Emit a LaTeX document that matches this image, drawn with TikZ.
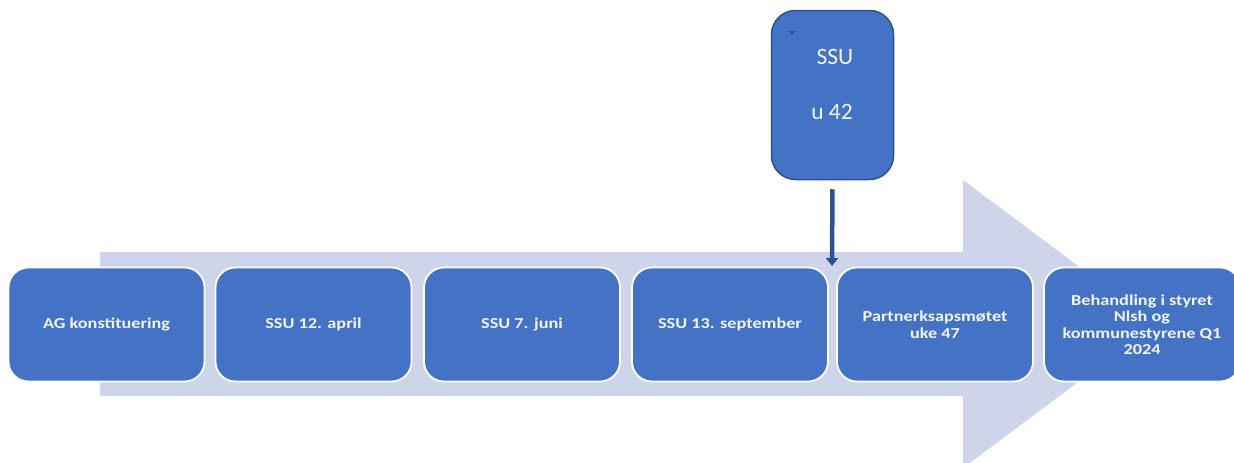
\documentclass[tikz,border=0pt]{standalone}
\usepackage{fontspec}
\setmainfont{Carlito}
\newfontfamily\rowfont[FakeStretch=1.2]{Carlito Bold}
\usetikzlibrary{arrows.meta}
\definecolor{boxblue}{HTML}{4472C4}
\definecolor{darkblue}{HTML}{2F528F}
\definecolor{arrowbg}{HTML}{CED5EA}
\definecolor{txt}{HTML}{F2F5FB}
\begin{document}
\begin{tikzpicture}[x=1pt,y=-1pt,
  rowbox/.style={draw=white,line width=1.8pt,fill=boxblue,rounded corners=20pt,
    minimum width=196pt,minimum height=114pt,inner sep=0pt,align=center,
    text=txt,font=\rowfont\fontsize{15.2}{16.5}\selectfont,anchor=center},
  topbox/.style={draw=darkblue,line width=1.5pt,fill=boxblue,rounded corners=24pt,
    minimum width=122pt,minimum height=169pt,inner sep=0pt},
  toptext/.style={text=txt,font=\fontsize{23.5}{26}\selectfont,anchor=center},
  link/.style={draw=darkblue,line width=4.5pt,-{Triangle[width=12pt,length=8pt]}}
]
\useasboundingbox (0,0) rectangle (1234,463);
\clip (0,0) rectangle (1234,463);
% big background arrow
\fill[arrowbg] (100,252) -- (963,252) -- (963,180) -- (1156,324) -- (963,468) -- (963,396) -- (100,396) -- cycle;
% row boxes
\node[rowbox] (b1) at (106.5,324.5) {AG konstituering};
\node[rowbox] (b2) at (313.5,324.5) {SSU 12. april};
\node[rowbox] (b3) at (522,324.5) {SSU 7. juni};
\node[rowbox] (b4) at (730,324.5) {SSU 13. september};
\node[rowbox] (b5) at (935,324.5) {Partnerksapsmøtet\\uke 47};
\node[rowbox] (b6) at (1142,324.5) {Behandling i styret\\Nlsh og\\kommunestyrene Q1\\2024};
% top box
\node[topbox] (top) at (832.5,95) {};
\node[toptext] (t1) at (835,57) {SSU};
\node[toptext] (t2) at (832,112) {u 42};
\fill[darkblue] (789,31) -- (795,31) -- (792,35) -- cycle;
% connector
\coordinate (gap) at (832,266);
\draw[link,shorten <=9pt] (top.south) -- (gap);
\end{tikzpicture}
\end{document}
